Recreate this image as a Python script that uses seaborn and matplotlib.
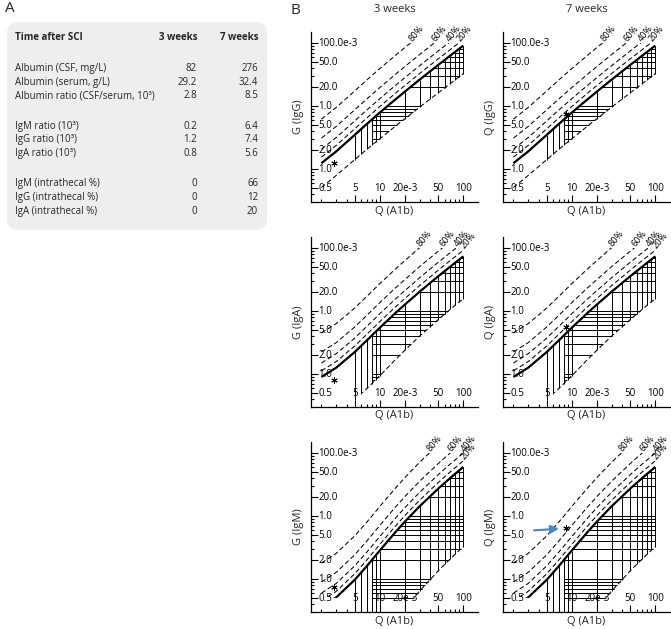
import numpy as np
import matplotlib
matplotlib.use("Agg")
import matplotlib.pyplot as plt
import matplotlib.transforms as mtransforms
from matplotlib.patches import FancyBboxPatch, Rectangle
from matplotlib.ticker import FixedLocator, NullFormatter
import seaborn as sns

sns.set_theme(style="ticks")
plt.rcParams["font.family"] = ["Open Sans", "DejaVu Sans"]

# ---------------- data: panel A table ----------------
table_header = ["Time after SCI", "3 weeks", "7 weeks"]
row_labels = ["Albumin (CSF, mg/L)", "Albumin (serum, g/L)", "Albumin ratio (CSF/serum, 10³)",
              "IgM ratio (10³)", "IgG ratio (10³)", "IgA ratio (10³)",
              "IgM (intrathecal %)", "IgG (intrathecal %)", "IgA (intrathecal %)"]
values_3w = ["82", "29.2", "2.8", "0.2", "1.2", "0.8", "0", "0", "0"]
values_7w = ["276", "32.4", "8.5", "6.4", "7.4", "5.6", "66", "12", "20"]
group_sizes = [3, 3, 3]

# ---------------- data: panel B Reibergrams (values x 10^-3) ----------------
q_alb = [2, 3, 5, 7, 10, 15, 20, 30, 50, 70, 100]
igg_lim = [1.24, 1.90, 3.48, 5.20, 7.88, 12.4, 17.0, 26.3, 44.9, 63.4, 91.3]
igg_low = [0.51, 0.79, 1.41, 2.06, 3.03, 4.67, 6.32, 9.61, 16.2, 22.8, 32.7]
iga_lim = [0.90, 1.26, 2.23, 3.43, 5.44, 9.03, 12.7, 20.3, 35.6, 50.9, 74.0]
iga_low = [0.20, 0.25, 0.39, 0.59, 0.94, 1.64, 2.40, 4.01, 7.32, 10.7, 15.8]
igm_lim = [0.36, 0.51, 0.97, 1.61, 2.84, 5.34, 8.18, 14.3, 27.2, 40.4, 60.3]
igm_low = [0.025, 0.030, 0.044, 0.066, 0.111, 0.213, 0.341, 0.645, 1.35, 2.10, 3.27]
fractions = [20, 40, 60, 80]

timepoints = ["3 weeks", "7 weeks"]
patient_qalb = [2.8, 8.5]
patient_igg = [1.25, 7.4]
patient_iga = [0.8, 5.6]
patient_igm = [0.75, 6.4]

x_tick_values = [5, 10, 20, 50, 100]
x_tick_labels = ["5", "10", "20e-3", "50", "100"]
y_tick_values = [100, 50, 20, 10, 5, 2, 1, 0.5]
y_tick_labels = ["100.0e-3", "50.0", "20.0", "1.0", "5.0", "2.0", "1.0", "0.5"]
hatch_x = [5, 6, 7, 8, 9, 10, 20, 30, 40, 50, 60, 70, 80, 90, 100]
hatch_y = [0.5, 0.6, 0.7, 0.8, 0.9, 1, 2, 3, 4, 5, 6, 7, 8, 9,
           10, 20, 30, 40, 50, 60, 70, 80, 90]

# ---------------- layout ----------------
W, H = 671, 629
fig = plt.figure(figsize=(W / 100, H / 100), dpi=100)
fig.patch.set_facecolor("white")


def fx(px):
    return px / W


def fy(py):
    return 1 - py / H


TXT = "#262626"

# ---- panel A ----
fig.text(fx(5), fy(9), "A", fontsize=11, color=TXT, ha="left", va="center")
box = FancyBboxPatch((fx(7), fy(230)), fx(267) - fx(7), fy(22) - fy(230),
                     boxstyle="round,pad=0,rounding_size=0.018",
                     transform=fig.transFigure, facecolor="#eeeeee", edgecolor="none")
fig.add_artist(box)
col_x = [15, 197, 258]
fig.text(fx(col_x[0]), fy(37.7), table_header[0], fontsize=7, fontweight="bold",
         color=TXT, ha="left", va="center")
fig.text(fx(col_x[1]), fy(37.7), table_header[1], fontsize=7, fontweight="bold",
         color=TXT, ha="right", va="center")
fig.text(fx(col_x[2]), fy(37.7), table_header[2], fontsize=7, fontweight="bold",
         color=TXT, ha="right", va="center")
i = 0
for g, n in enumerate(group_sizes):
    for k in range(n):
        y = 68.3 + 13.75 * i + 16.5 * g
        fig.text(fx(col_x[0]), fy(y), row_labels[i], fontsize=7, color=TXT, ha="left", va="center")
        fig.text(fx(col_x[1]), fy(y), values_3w[i], fontsize=7, color=TXT, ha="right", va="center")
        fig.text(fx(col_x[2]), fy(y), values_7w[i], fontsize=7, color=TXT, ha="right", va="center")
        i += 1

# ---- panel B ----
fig.text(fx(290), fy(10), "B", fontsize=11, color=TXT, ha="left", va="center")

ig_names = ["IgG", "IgA", "IgM"]
lims = [igg_lim, iga_lim, igm_lim]
lows = [igg_low, iga_low, igm_low]
patients = [patient_igg, patient_iga, patient_igm]
row_tops = [32, 237, 442]
col_lefts = [311, 503]
prefix = ["G", "Q"]
AX_W, AX_H = 167, 170

q = np.array(q_alb, dtype=float)


def li(x, xp, fp):
    return 10 ** np.interp(np.log10(x), np.log10(xp), np.log10(fp))


for r in range(3):
    lim = np.array(lims[r], dtype=float)
    low = np.array(lows[r], dtype=float)
    for c in range(2):
        ax = fig.add_axes([fx(col_lefts[c]), fy(row_tops[r] + AX_H), fx(AX_W), AX_H / H])
        ax.set_xscale("log")
        ax.set_yscale("log")
        ax.set_xlim(1.5, 150)
        ax.set_ylim(0.3, 150)
        sns.despine(ax=ax)
        for s in ["left", "bottom"]:
            ax.spines[s].set_linewidth(0.9)
            ax.spines[s].set_color("black")
        ax.grid(False)

        ax.xaxis.set_major_locator(FixedLocator(x_tick_values))
        ax.xaxis.set_minor_locator(FixedLocator([2, 3, 4, 6, 7, 8, 9, 30, 40, 60, 70, 80, 90]))
        ax.yaxis.set_major_locator(FixedLocator(y_tick_values))
        ax.yaxis.set_minor_locator(FixedLocator([0.3, 0.4, 0.6, 0.7, 0.8, 0.9, 3, 4, 6, 7, 8, 9,
                                                 30, 40, 60, 70, 80, 90]))
        for axis in (ax.xaxis, ax.yaxis):
            axis.set_major_formatter(NullFormatter())
            axis.set_minor_formatter(NullFormatter())
        ax.tick_params(which="major", direction="in", length=5, width=0.8, color="black")
        ax.tick_params(which="minor", direction="in", length=2.5, width=0.8, color="black")

        # tick labels drawn inside the frame
        ytr = mtransforms.blended_transform_factory(ax.transAxes, ax.transData)
        for v, t in zip(y_tick_values, y_tick_labels):
            ax.text(0.045, v, t, transform=ytr, fontsize=7, color="black", ha="left", va="center")
        for v, t in zip(x_tick_values, x_tick_labels):
            ax.text(v, y_tick_values[-1], t, fontsize=7, color="black", ha="center", va="center")

        clip = Rectangle((1.5, 0.5), 148.5, 99.5, transform=ax.transData)

        # hatching: vertical grid lines inside the reference band
        for qv in hatch_x:
            ax.vlines(qv, li(qv, q, low), li(qv, q, lim), color="black", lw=0.7)
        # horizontal grid lines inside the band (from Q=8)
        for yv in hatch_y:
            xl = max(8.0, li(yv, lim, q))
            xr = min(100.0, li(yv, low, q))
            if xr > xl:
                ax.hlines(yv, xl, xr, color="black", lw=0.7)

        # lower limit (dashed) and upper limit (thick)
        ln, = ax.plot(q, low, color="black", lw=0.75, linestyle=(0, (4.5, 2.7)))
        ln.set_clip_path(clip)
        ln, = ax.plot(q, lim, color="black", lw=1.6, solid_capstyle="butt")
        ln.set_clip_path(clip)

        # intrathecal fraction lines
        for f in fractions:
            vals = lim / (1 - f / 100)
            ln, = ax.plot(q, vals, color="black", lw=0.75, linestyle=(0, (4.5, 2.7)))
            ln.set_clip_path(clip)
            if vals.max() >= 100:
                q_end, y_end = li(100, vals, q), 100
            else:
                q_end, y_end = 100, vals[-1]
            ax.annotate(f"{f}%", xy=(q_end, y_end), xytext=(1.2, 0.8), textcoords="offset points",
                        rotation=50, rotation_mode="anchor", ha="left", va="baseline",
                        fontsize=6.5, color="black", annotation_clip=False)

        # patient value
        ax.plot([patient_qalb[c]], [patients[r][c]], linestyle="none", marker=(6, 2, 0),
                ms=4.5, mew=0.7, color="black")

        ax.set_ylabel(f"{prefix[c]} ({ig_names[r]})", fontsize=8, color=TXT, va="center")
        ax.yaxis.set_label_coords(-13 / AX_W, 0.5)
        ax.set_xlabel("Q (A1b)", fontsize=8, color=TXT, va="center")
        ax.xaxis.set_label_coords(0.5, -9 / AX_H)
        if r == 0:
            ax.text(0.5, 1 + 23 / AX_H, timepoints[c], transform=ax.transAxes,
                    fontsize=8, color=TXT, ha="center", va="center")
        if r == 2 and c == 1:
            ax.annotate("", xy=(patient_qalb[c], patients[r][c]), xytext=(-23, -1.5),
                        textcoords="offset points",
                        arrowprops=dict(arrowstyle="-|>", color="#4a86c4", lw=1.5,
                                        shrinkA=0, shrinkB=5))

fig.savefig("out.png", dpi=100, facecolor="white")
